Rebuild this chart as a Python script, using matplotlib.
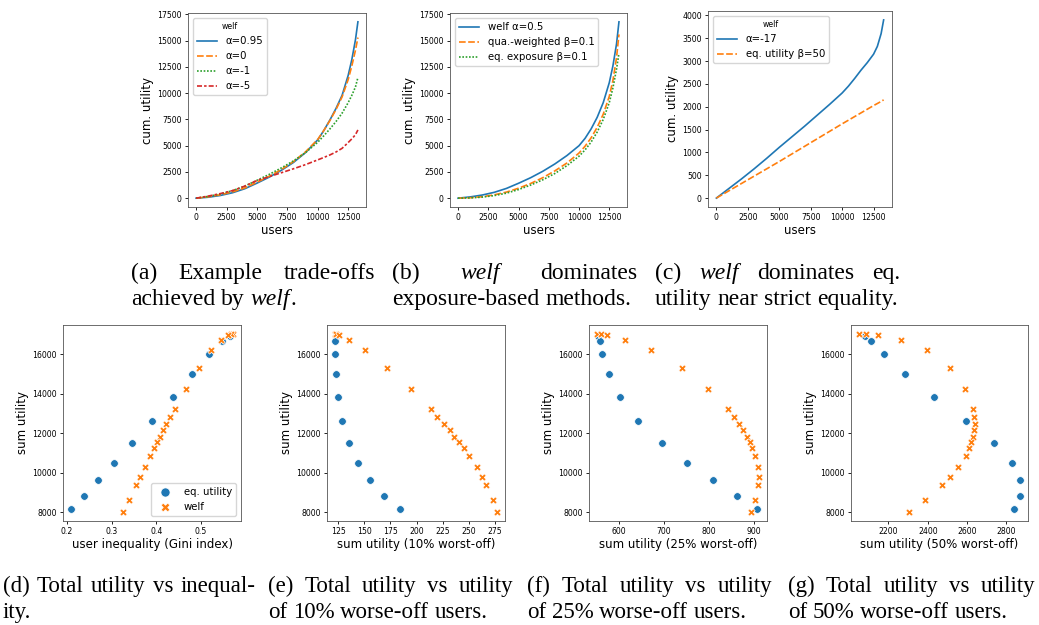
import matplotlib
matplotlib.use("Agg")
import matplotlib.pyplot as plt

# ---- top row: cumulative utility curves ----
users = [0, 1000, 2000, 3000, 4000, 5000, 6000, 7000, 8000, 9000, 10000,
         10500, 11000, 11500, 12000, 12500, 12800, 13100, 13300]

a_alpha095 = [0, 90, 260, 520, 900, 1430, 2000, 2650, 3400, 4350, 5560,
              6450, 7450, 8550, 9800, 11700, 13200, 15100, 16800]
a_alpha0 = [0, 130, 330, 600, 980, 1520, 2080, 2720, 3480, 4420, 5600,
            6450, 7400, 8450, 9650, 11300, 12600, 14100, 15300]
a_alpha_m1 = [0, 170, 400, 720, 1150, 1700, 2260, 2880, 3550, 4350, 5330,
              5950, 6600, 7300, 8100, 9100, 9800, 10600, 11500]
a_alpha_m5 = [0, 200, 440, 720, 1150, 1680, 2050, 2420, 2800, 3200, 3650,
              3880, 4120, 4400, 4750, 5300, 5650, 6050, 6500]

b_welf = [0, 120, 300, 560, 930, 1420, 1950, 2560, 3260, 4060, 5000,
          5700, 6600, 7700, 9100, 11000, 12600, 14700, 16800]
b_qua = [0, 40, 140, 320, 580, 950, 1400, 1950, 2600, 3350, 4300,
         4950, 5750, 6750, 8000, 9700, 11200, 13400, 15600]
b_eqexp = [0, 25, 100, 250, 480, 820, 1250, 1750, 2350, 3100, 4000,
           4600, 5350, 6300, 7500, 9100, 10500, 12300, 13800]

c_welf = [0, 210, 420, 640, 870, 1110, 1340, 1570, 1810, 2050, 2300,
          2450, 2620, 2800, 2965, 3150, 3320, 3600, 3900]
c_equtil = [0, 160, 320, 480, 640, 800, 965, 1130, 1295, 1460, 1625,
            1705, 1785, 1865, 1945, 2025, 2070, 2115, 2150]

# ---- bottom row: sum utility vs inequality / worst-off utility ----
sum_eq = [16950, 16657, 16000, 15006, 13844, 12632, 11503, 10493, 9617, 8842, 8168]
gini_eq = [0.565, 0.548, 0.519, 0.481, 0.437, 0.390, 0.346, 0.306, 0.270, 0.237, 0.209]
w10_eq = [123, 122, 122, 122.5, 124.5, 129, 135, 144, 155, 169, 184]
w25_eq = [555, 558, 564, 578, 604, 644, 696, 753, 810, 864, 907]
w50_eq = [2080, 2110, 2175, 2285, 2430, 2595, 2740, 2830, 2870, 2870, 2840]

sum_welf = [17040, 17020, 16970, 16740, 16202, 15326, 14248, 13221, 12834, 12480,
            12160, 11840, 11554, 11284, 10880, 10324, 9819, 9398, 8640, 8017]
gini_welf = [0.572, 0.568, 0.560, 0.545, 0.522, 0.495, 0.467, 0.441, 0.432, 0.423,
             0.415, 0.408, 0.401, 0.396, 0.387, 0.374, 0.364, 0.355, 0.339, 0.325]
w10_welf = [122, 123, 126, 135, 151, 172, 195, 214, 220, 226,
            232, 236, 241, 245, 250, 258, 263, 267, 273, 277]
w25_welf = [552, 560, 575, 614, 673, 740, 798, 843, 856, 868,
            877, 886, 892, 897, 904, 910, 912, 911, 904, 894]
w50_welf = [2050, 2085, 2145, 2262, 2395, 2512, 2592, 2632, 2638, 2640,
            2636, 2630, 2622, 2612, 2593, 2555, 2515, 2472, 2385, 2305]

W, H = 1039, 625
fig = plt.figure(figsize=(W / 100, H / 100), dpi=100)

blue, orange, green, red = "#1f77b4", "#ff7f0e", "#2ca02c", "#d62728"
TICK = 5.6
LAB = 8.5
LEG = 7.3


def box(x0, x1, y0, y1):
    return [x0 / W, 1 - y1 / H, (x1 - x0) / W, (y1 - y0) / H]


def style_ax(ax, xlabel, ylabel):
    ax.tick_params(labelsize=TICK, length=2.5, width=0.6, pad=2)
    ax.set_xlabel(xlabel, fontsize=LAB, labelpad=1)
    ax.set_ylabel(ylabel, fontsize=LAB, labelpad=2)
    for sp in ax.spines.values():
        sp.set_linewidth(0.6)
        sp.set_color("#555555")


lw = 1.2
# (a)
ax = fig.add_axes(box(188, 366, 13, 207))
ax.plot(users, a_alpha095, color=blue, lw=lw, label="α=0.95")
ax.plot(users, a_alpha0, color=orange, lw=lw, ls=(0, (4, 1.5)), label="α=0")
ax.plot(users, a_alpha_m1, color=green, lw=lw, ls=(0, (1, 1)), label="α=-1")
ax.plot(users, a_alpha_m5, color=red, lw=lw, ls=(0, (3, 1.25, 1.5, 1.25)), label="α=-5")
ax.set_yticks(range(0, 17501, 2500))
ax.set_xticks(range(0, 12501, 2500))
style_ax(ax, "users", "cum. utility")
ax.legend(title="welf", fontsize=LEG, title_fontsize=5.6, loc="upper left")

# (b)
ax = fig.add_axes(box(450, 627, 13, 207))
ax.plot(users, b_welf, color=blue, lw=lw, label="welf α=0.5")
ax.plot(users, b_qua, color=orange, lw=lw, ls=(0, (4, 1.5)), label="qua.-weighted β=0.1")
ax.plot(users, b_eqexp, color=green, lw=lw, ls=(0, (1, 1)), label="eq. exposure β=0.1")
ax.set_yticks(range(0, 17501, 2500))
ax.set_xticks(range(0, 12501, 2500))
style_ax(ax, "users", "cum. utility")
ax.legend(fontsize=LEG, loc="upper left")

# (c)
ax = fig.add_axes(box(708, 892, 11, 207))
ax.plot(users, c_welf, color=blue, lw=lw, label="α=-17")
ax.plot(users, c_equtil, color=orange, lw=lw, ls=(0, (4, 1.5)), label="eq. utility β=50")
ax.set_yticks(range(0, 4001, 500))
ax.set_xticks(range(0, 12501, 2500))
style_ax(ax, "users", "cum. utility")
ax.legend(title="welf", fontsize=LEG, title_fontsize=5.6, loc="upper left")

# bottom scatter panels
panels = [
    (63, 241, gini_eq, gini_welf, "user inequality (Gini index)", True),
    (327, 505, w10_eq, w10_welf, "sum utility (10% worst-off)", False),
    (589, 767, w25_eq, w25_welf, "sum utility (25% worst-off)", False),
    (851, 1028, w50_eq, w50_welf, "sum utility (50% worst-off)", False),
]
for x0, x1, xe, xw, xl, show_leg in panels:
    ax = fig.add_axes(box(x0, x1, 325, 521))
    ax.scatter(xe, sum_eq, s=30, marker="o", color=blue, edgecolor="white",
               linewidth=0.5, label="eq. utility", zorder=3)
    ax.scatter(xw, sum_welf, s=28, marker="X", color=orange, edgecolor="white",
               linewidth=0.5, label="welf", zorder=3)
    ax.set_yticks(range(8000, 16001, 2000))
    style_ax(ax, xl, "sum utility")
    if show_leg:
        ax.legend(fontsize=LEG, loc="lower right", markerscale=1.2)

# ---- captions (justified like the LaTeX source) ----
renderer = fig.canvas.get_renderer()


def cap_line(x0, x1, base, words, size, justify=True):
    while True:
        items = []
        total = 0
        for word in words:
            parts = []
            wsum = 0
            for s, st in word:
                t = fig.text(0, 1 - base / H, s, fontsize=size, family="Liberation Serif",
                             style=st, va="baseline", ha="left")
                w = t.get_window_extent(renderer).width
                parts.append((t, w))
                wsum += w
            items.append((parts, wsum))
            total += wsum
        space = size * 100 / 72 * 0.25
        if justify and len(items) > 1:
            gap = (x1 - x0 - total) / (len(items) - 1)
        else:
            gap = space
        if gap >= 0.8 * space or size < 10:
            break
        for parts, _ in items:
            for t, _ in parts:
                t.remove()
        size -= 0.25
    x = x0
    for parts, wsum in items:
        for t, w in parts:
            t.set_x(x / W)
            x += w
        x += gap


def R(s):
    return [(s, "normal")]


welf_it = ("welf", "italic")

top1, top2 = 279, 305
bot1, bot2 = 592, 618
tsize = 17.0
bsize = 16.5

cap_line(131, 375, top1, [R("(a)"), R("Example"), R("trade-offs")], tsize)
cap_line(131, 375, top2, [R("achieved"), R("by"), [welf_it, (".", "normal")]], tsize, justify=False)
cap_line(392, 637, top1, [R("(b)"), [welf_it], R("dominates")], tsize)
cap_line(392, 637, top2, [R("exposure-based"), R("methods.")], tsize, justify=False)
cap_line(655, 900, top1, [R("(c)"), [welf_it], R("dominates"), R("eq.")], tsize)
cap_line(655, 900, top2, [R("utility"), R("near"), R("strict"), R("equality.")], tsize, justify=False)

cap_line(3, 256, bot1, [R(w) for w in "(d) Total utility vs inequal-".split()], bsize)
cap_line(3, 256, bot2, [R("ity.")], bsize, justify=False)
for x0, x1, lab, pct in [(268, 513, "(e)", "10%"), (527, 772, "(f)", "25%"),
                         (788, 1035, "(g)", "50%")]:
    cap_line(x0, x1, bot1, [R(w) for w in (lab + " Total utility vs utility").split()], bsize)
    cap_line(x0, x1, bot2, [R(w) for w in ("of " + pct + " worse-off users.").split()],
             bsize, justify=False)

fig.savefig("out.png", dpi=100)
